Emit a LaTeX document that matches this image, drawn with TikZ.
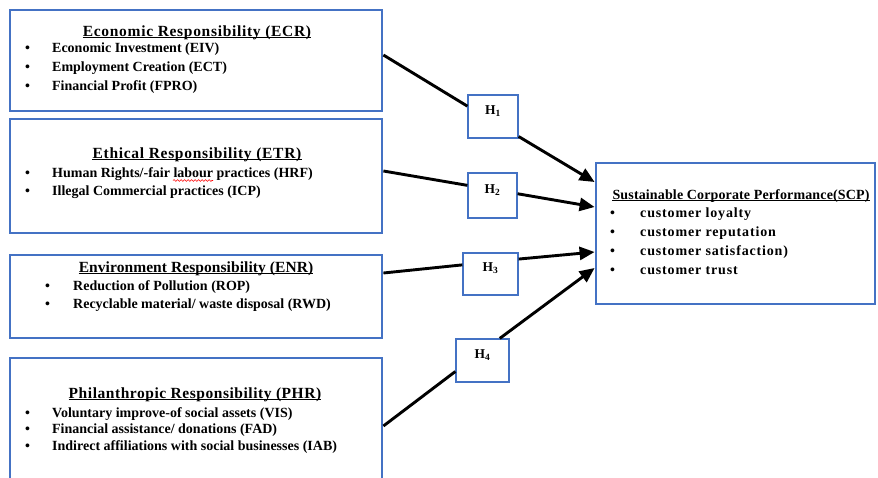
\documentclass[tikz,border=0pt]{standalone}
\usepackage{fontspec}
\setmainfont{Liberation Serif}
\usetikzlibrary{arrows.meta,positioning,decorations.pathmorphing}

\definecolor{boxblue}{RGB}{68,114,196}
\newcommand{\headfont}{\bfseries\fontsize{15.5}{17}\selectfont}
\newcommand{\itemfont}{\bfseries\fontsize{14}{19}\selectfont}

\begin{document}
\begin{tikzpicture}[x=1pt,y=-1pt,>={Triangle[length=15pt,width=13pt]}]
  \tikzstyle{resp}=[rectangle,draw=boxblue,line width=2.8pt,inner sep=0pt]
  \tikzstyle{hyp}=[rectangle,draw=boxblue,line width=1.2pt,fill=white,inner sep=0pt,text height=10pt,text depth=15pt,font=\bfseries\fontsize{13.5}{15}\selectfont]
  \tikzstyle{head}=[inner sep=0pt,anchor=base,font=\headfont]
  \tikzstyle{items}=[inner sep=0pt,anchor=base west,font=\itemfont]
  \tikzstyle{link}=[line width=2.9pt,black]
  \tikzstyle{uline}=[line width=1pt,black]

  \useasboundingbox (0,0) rectangle (878,477);
  \clip (0,0) rectangle (878,477);

  \begin{scope}
    % responsibility blocks
    \node [resp,minimum width=372pt,minimum height=101pt] (ecr) at (196,60.5) {};
    \node [resp,minimum width=372pt,minimum height=114pt] (etr) at (196,176) {};
    \node [resp,minimum width=372pt,minimum height=83pt] (enr) at (196,296.5) {};
    \node [resp,minimum width=372pt,minimum height=137pt] (phr) at (196,426.5) {};
    \node [resp,minimum width=279pt,minimum height=141pt] (scp) at (735.5,233.5) {};

    \node [head] (ecrHead) at (197,36) {\addfontfeature{LetterSpace=4.5}Economic Responsibility (ECR)};
    \node [items] (ecrList) at (25,52) {\begin{tabular}[t]{@{}p{27pt}@{}l@{}}
      \textbullet & Economic Investment (EIV)\\
      \textbullet & Employment Creation (ECT)\\
      \textbullet & Financial Profit (FPRO)
    \end{tabular}};

    \node [head] (etrHead) at (197,158) {\addfontfeature{LetterSpace=4.5}Ethical Responsibility (ETR)};
    \node [items,font=\bfseries\fontsize{14}{18}\selectfont] (etrList) at (25,177) {\begin{tabular}[t]{@{}p{27pt}@{}l@{}}
      \textbullet & Human Rights/-fair labour practices (HRF)\\
      \textbullet & Illegal Commercial practices (ICP)
    \end{tabular}};

    \node [head] (enrHead) at (196,272) {\addfontfeature{LetterSpace=0.5}Environment Responsibility (ENR)};
    \node [items,font=\bfseries\fontsize{14}{18}\selectfont] (enrList) at (45,290) {\begin{tabular}[t]{@{}p{28pt}@{}l@{}}
      \textbullet & Reduction of Pollution (ROP)\\
      \textbullet & Recyclable material/ waste disposal (RWD)
    \end{tabular}};

    \node [head] (phrHead) at (195,398) {\addfontfeature{LetterSpace=3.5}Philanthropic Responsibility (PHR)};
    \node [items,font=\bfseries\fontsize{14}{16.5}\selectfont] (phrList) at (25,417) {\begin{tabular}[t]{@{}p{27pt}@{}l@{}}
      \textbullet & Voluntary improve-of social assets (VIS)\\
      \textbullet & Financial assistance/ donations (FAD)\\
      \textbullet & Indirect affiliations with social businesses (IAB)
    \end{tabular}};

    \node [head,font=\bfseries\fontsize{14}{16}\selectfont] (scpHead) at (741,199) {\addfontfeature{LetterSpace=1}Sustainable Corporate Performance(SCP)};
    \node [items,font=\bfseries\fontsize{14}{19.3}\selectfont] (scpList) at (610,217) {\addfontfeature{LetterSpace=6}\begin{tabular}[t]{@{}p{30pt}@{}l@{}}
      \textbullet & customer loyalty\\
      \textbullet & customer reputation\\
      \textbullet & customer satisfaction)\\
      \textbullet & customer trust
    \end{tabular}};

    % underlines and spelling mark
    \foreach \h in {ecrHead,etrHead,enrHead,phrHead,scpHead}
      \draw [uline] ([yshift=-1.6pt]\h.base west) -- ([yshift=-1.6pt]\h.base east);
    \draw [red,line width=0.6pt,decorate,decoration={snake,amplitude=0.9pt,segment length=3.5pt}] (173,180.5) -- (213,180.5);
  \end{scope}

  \begin{scope}
    % hypotheses
    \node [hyp,minimum width=50pt,minimum height=43pt] (H1) at (493,116.5) {H\textsubscript{1}};
    \node [hyp,minimum width=49pt,minimum height=45pt] (H2) at (492.5,195.5) {H\textsubscript{2}};
    \node [hyp,minimum width=55pt,minimum height=42pt] (H3) at (490.5,274) {H\textsubscript{3}};
    \node [hyp,minimum width=53pt,minimum height=43pt] (H4) at (482.5,360.5) {H\textsubscript{4}};

    \coordinate (ecrOut) at (ecr.east |- 0,55);
    \coordinate (etrOut) at (etr.east |- 0,171);
    \coordinate (enrOut) at (enr.east |- 0,273);
    \coordinate (phrOut) at (phr.east |- 0,426);
    \coordinate (tipA) at (scp.west |- 0,182);
    \coordinate (tipB) at (scp.west |- 0,207);
    \coordinate (tipC) at (scp.west |- 0,252);
    \coordinate (tipD) at (scp.west |- 0,268);
  \end{scope}

  \begin{scope}
    \path [link] (ecrOut) edge (H1.158);
    \path [link,->] (H1.322) edge (tipA);
    \path [link] (etrOut) edge (H2.158);
    \path [link,->] (H2.4) edge (tipB);
    \path [link] (enrOut) edge (H3.162);
    \path [link,->] (H3.28) edge (tipC);
    \path [link] (phrOut) edge (H4.202);
    \path [link,->] (H4.52) edge (tipD);
  \end{scope}
\end{tikzpicture}
\end{document}
